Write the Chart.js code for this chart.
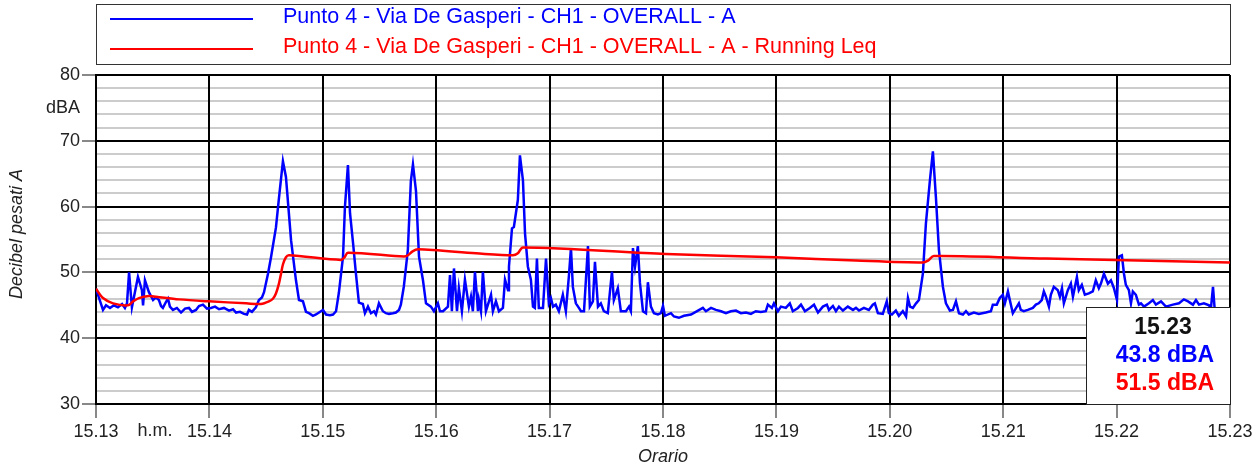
<!DOCTYPE html>
<html>
<head>
<meta charset="utf-8">
<script src="https://cdn.jsdelivr.net/npm/chart.js@4"></script>
<style>
  html, body { margin: 0; padding: 0; background: #fff; }
  #wrap { width: 1259px; height: 470px; }
</style>
</head>
<body>
<div id="wrap"><canvas id="noise-chart" width="1259" height="470"></canvas></div>
<script>
// x values are seconds after 15:13:00
const minuteLabels = ['15.13', '15.14', '15.15', '15.16', '15.17', '15.18', '15.19', '15.20', '15.21', '15.22', '15.23'];

const seriesNames = [
    'Punto 4 - Via De Gasperi - CH1 - OVERALL - A',
    'Punto 4 - Via De Gasperi - CH1 - OVERALL - A - Running Leq'
];

const levelTimes = [
    0, 3.7, 5.3, 7.4, 9.5, 11.6, 13.8, 15.3, 16.4, 17.5, 19.0, 22.2, 24.3, 24.9, 25.9, 28.0, 30.2, 31.7, 33.3, 34.4,
    35.4, 37.0, 38.1, 39.1, 40.7, 42.8, 45.0, 47.1, 49.2, 50.8, 52.9, 54.5, 56.6, 58.7, 60.8, 63.0, 65.1, 67.7, 70.4, 72.5,
    74.1, 76.2, 78.3, 79.9, 80.9, 82.5, 84.6, 86.2, 87.8, 88.9, 91.0, 92.6, 95.2, 96.8, 98.9, 100.5, 103.2, 105.8, 107.4, 109.5,
    111.1, 112.7, 114.8, 116.4, 118.0, 120.1, 121.7, 123.8, 125.4, 127.0, 128.5, 130.7, 131.7, 133.3, 134.4, 136.0, 137.5, 139.1, 141.2, 142.3,
    143.9, 145.5, 147.1, 148.1, 149.7, 151.8, 153.4, 155.0, 157.1, 158.7, 160.3, 161.3, 162.9, 165.0, 166.6, 167.7, 169.3, 170.9, 173.0, 174.6,
    177.2, 178.8, 180.9, 182.0, 183.6, 186.2, 187.3, 188.3, 189.4, 191.0, 192.0, 193.6, 195.2, 197.3, 198.4, 199.4, 200.5, 201.5, 202.1, 202.6,
    203.7, 204.7, 206.3, 209.0, 210.0, 211.6, 213.2, 215.3, 216.4, 218.0, 218.5, 220.1, 221.1, 223.2, 224.3, 225.9, 227.0, 228.5, 230.1, 231.2,
    232.2, 233.3, 234.3, 236.5, 238.1, 239.6, 240.7, 241.8, 243.3, 244.9, 247.0, 248.6, 250.2, 251.3, 252.3, 253.9, 255.5, 256.6, 258.2, 260.3,
    261.3, 262.9, 264.0, 265.6, 267.1, 268.7, 270.8, 273.0, 274.0, 276.1, 277.7, 280.4, 282.0, 283.0, 284.1, 285.2, 286.7, 287.8, 289.4, 291.0,
    292.0, 293.6, 295.2, 297.3, 298.9, 300.0, 301.0, 304.2, 305.8, 308.4, 311.1, 314.8, 318.5, 321.1, 322.7, 325.4, 328.0, 330.7, 333.3, 335.9,
    338.6, 341.2, 343.9, 346.5, 349.1, 351.8, 354.4, 355.5, 357.6, 358.7, 360.8, 362.4, 365.0, 367.1, 368.7, 371.4, 373.0, 375.1, 377.7, 379.9,
    382.0, 384.6, 386.7, 387.8, 389.9, 391.5, 393.1, 395.2, 397.8, 400.5, 402.1, 403.7, 406.3, 408.9, 411.0, 412.1, 413.7, 416.3, 418.4, 419.5,
    421.1, 423.2, 424.8, 426.9, 428.6, 429.6, 430.7, 432.2, 433.9, 435.4, 437.5, 439.1, 441.2, 442.8, 444.4, 446.0, 448.1, 449.7, 451.8, 453.4,
    455.0, 456.6, 458.7, 460.3, 461.8, 464.5, 467.1, 470.8, 473.5, 474.5, 476.6, 478.2, 479.8, 480.9, 482.5, 483.5, 485.1, 486.2, 488.3, 489.3,
    490.9, 493.0, 495.7, 497.3, 498.8, 500.4, 501.5, 502.6, 504.2, 505.2, 506.8, 508.9, 510.0, 511.1, 512.1, 514.2, 515.8, 516.9, 519.0, 520.0,
    521.6, 523.2, 525.3, 527.4, 529.0, 530.6, 531.7, 533.3, 535.4, 537.0, 538.6, 540.2, 541.2, 542.8, 543.9, 544.9, 546.5, 547.6, 548.6, 550.2,
    551.8, 552.9, 554.5, 557.1, 559.2, 560.8, 563.5, 566.1, 569.8, 573.0, 575.6, 577.8, 580.4, 582.0, 583.6, 586.2, 588.9, 589.9, 591.0, 592.0,
    594.7, 597.8, 600
];

const levelValues = [
    47.5, 44.3, 45.0, 44.6, 45.0, 44.7, 45.2, 44.6, 45.3, 50.0, 44.7, 49.3, 47.3, 45.0, 48.8, 47.0, 45.8, 46.2, 45.8, 44.9,
    44.6, 45.5, 46.0, 44.8, 44.3, 44.6, 43.9, 44.5, 44.6, 44.0, 44.3, 44.9, 45.1, 44.5, 44.6, 44.8, 44.4, 44.6, 44.2, 44.4,
    43.9, 44.0, 43.7, 43.6, 44.3, 44.0, 44.7, 45.8, 46.2, 47.0, 49.8, 52.3, 56.8, 61.3, 66.9, 64.5, 54.9, 48.8, 45.8, 45.6,
    44.0, 43.8, 43.4, 43.6, 43.9, 44.3, 43.6, 43.5, 43.6, 44.1, 46.9, 52.4, 59.9, 66.3, 59.0, 54.5, 49.9, 45.4, 45.2, 43.8,
    44.8, 43.8, 44.1, 43.6, 45.3, 44.1, 43.8, 43.7, 43.8, 43.9, 44.3, 45.1, 47.9, 53.4, 63.9, 66.4, 62.4, 52.4, 48.8, 45.3,
    44.8, 44.1, 45.3, 44.1, 44.1, 44.8, 49.6, 44.1, 50.6, 44.1, 47.6, 44.1, 48.9, 44.8, 46.3, 44.1, 50.1, 46.5, 44.1, 45.8,
    44.1, 50.1, 44.1, 46.6, 44.1, 45.6, 44.1, 44.6, 48.9, 47.3, 50.9, 56.7, 56.9, 61.0, 67.8, 64.0, 55.9, 50.9, 48.9, 44.8,
    44.6, 52.1, 44.6, 44.6, 52.1, 45.3, 46.1, 44.8, 45.1, 44.1, 46.6, 44.1, 49.4, 53.7, 47.8, 45.3, 44.6, 44.1, 44.1, 54.0,
    44.8, 45.6, 51.6, 44.8, 45.3, 44.1, 43.8, 50.1, 45.8, 47.6, 44.1, 44.1, 44.8, 44.1, 53.7, 50.9, 54.0, 48.4, 44.1, 43.8,
    48.5, 44.8, 43.8, 43.6, 43.8, 44.9, 43.4, 43.8, 43.3, 43.1, 43.4, 43.6, 44.2, 44.6, 44.1, 44.6, 44.3, 44.1, 43.8, 44.1,
    44.2, 43.8, 43.9, 43.7, 44.1, 44.0, 44.1, 45.1, 44.6, 45.3, 44.1, 44.8, 44.6, 45.3, 44.1, 44.6, 45.1, 44.1, 44.6, 45.1,
    43.9, 44.8, 45.1, 44.3, 44.9, 44.1, 44.8, 44.2, 44.8, 44.3, 44.6, 44.2, 44.6, 44.3, 45.1, 45.3, 43.8, 43.7, 45.6, 43.8,
    43.6, 44.2, 43.4, 44.1, 43.3, 46.1, 44.8, 44.6, 45.3, 45.8, 49.8, 57.4, 63.9, 68.4, 61.4, 53.4, 47.8, 45.3, 44.2, 44.3,
    45.6, 43.8, 43.6, 44.1, 43.6, 43.9, 43.7, 43.9, 44.1, 45.1, 45.1, 46.1, 46.6, 45.3, 47.1, 45.8, 43.8, 44.3, 45.3, 44.3,
    44.1, 44.3, 44.6, 45.1, 45.3, 45.8, 47.1, 46.3, 44.8, 46.6, 47.8, 47.3, 46.3, 47.6, 45.3, 47.3, 48.3, 46.3, 49.3, 47.3,
    48.1, 46.6, 46.8, 47.1, 48.8, 47.6, 48.3, 49.8, 48.3, 48.8, 47.6, 45.8, 52.4, 52.6, 49.8, 48.1, 47.3, 45.3, 47.1, 46.6,
    45.1, 45.3, 44.8, 45.3, 45.8, 45.1, 45.6, 44.8, 45.1, 45.3, 45.9, 45.6, 45.1, 45.8, 45.1, 45.3, 45.0, 44.5, 47.8, 44.0,
    43.5, 43.9, 43.8
];

const leqTimes = [
    0, 3.7, 9.0, 16.9, 19.6, 22.7, 28.0, 31.7, 43.9, 59.8, 79.4, 87.3, 91.5, 93.6, 95.2, 96.8, 97.9, 98.9, 100.5, 102.1,
    129.6, 131.5, 133.3, 162.9, 165.0, 167.5, 170.4, 201.1, 220.6, 223.2, 225.9, 301.5, 359.7, 402.1, 437.5, 440.2, 443.3, 502.6, 600
];

const leqValues = [
    47.5, 46.1, 45.3, 45.0, 45.6, 46.1, 46.4, 46.3, 45.9, 45.6, 45.3, 45.2, 45.6, 46.0, 46.8, 48.3, 49.8, 51.2, 52.3, 52.6,
    51.9, 52.3, 53.0, 52.4, 52.6, 53.2, 53.5, 52.9, 52.6, 52.9, 53.8, 52.8, 52.3, 51.8, 51.5, 51.8, 52.5, 52.1, 51.5
];

const seriesColors = ['#0000ff', '#ff0000'];
const FONT = '"Liberation Sans", Arial, sans-serif';

function toPoints(xs, ys) {
    return xs.map((x, i) => ({ x: x, y: ys[i] }));
}

// legend, axis captions and the read-out box
const annotations = {
    id: 'annotations',
    afterDatasetsDraw(chart) {
        const c = chart.ctx;
        const area = chart.chartArea;
        const yScale = chart.scales.y;
        c.save();

        // legend frame
        c.strokeStyle = '#333';
        c.lineWidth = 1;
        c.strokeRect(96.5, 4.5, area.right - 96, 60);
        seriesNames.forEach((name, i) => {
            const y = 19 + i * 30;
            c.strokeStyle = seriesColors[i];
            c.lineWidth = 2;
            c.beginPath();
            c.moveTo(110, y);
            c.lineTo(253, y);
            c.stroke();
            c.fillStyle = seriesColors[i];
            c.font = '21.5px ' + FONT;
            c.textAlign = 'left';
            c.textBaseline = 'middle';
            c.fillText(name, 283, y - 2);
        });

        // unit label and captions
        c.fillStyle = '#222';
        c.font = '18px ' + FONT;
        c.textAlign = 'right';
        c.textBaseline = 'middle';
        c.fillText('dBA', 80, yScale.getPixelForValue(75));
        c.textAlign = 'center';
        c.fillText('h.m.', 155, 431);
        c.font = 'italic 18px ' + FONT;
        c.fillText('Orario', (area.left + area.right) / 2, 457);
        c.save();
        c.translate(17, 234);
        c.rotate(-Math.PI / 2);
        c.fillText('Decibel pesati A', 0, 0);
        c.restore();

        // last-value box
        const bx = 1086, by = 307;
        c.fillStyle = '#fff';
        c.fillRect(bx, by, area.right - bx, area.bottom - by);
        c.strokeStyle = '#222';
        c.lineWidth = 1;
        c.strokeRect(bx + 0.5, by + 0.5, area.right - bx, area.bottom - by);
        c.font = 'bold 23px ' + FONT;
        c.fillStyle = '#111';
        c.fillText(minuteLabels[minuteLabels.length - 1], 1163, 328);
        c.fillStyle = seriesColors[0];
        c.fillText(levelValues[levelValues.length - 1].toFixed(1) + ' dBA', 1165, 356);
        c.fillStyle = seriesColors[1];
        c.fillText(leqValues[leqValues.length - 1].toFixed(1) + ' dBA', 1165, 384);
        c.restore();
    }
};

const ctx = document.getElementById('noise-chart').getContext('2d');
new Chart(ctx, {
    type: 'line',
    data: {
        datasets: [
            {
                label: seriesNames[0],
                data: toPoints(levelTimes, levelValues),
                borderColor: seriesColors[0],
                borderWidth: 2.5,
                pointRadius: 0,
                tension: 0,
                order: 2
            },
            {
                label: seriesNames[1],
                data: toPoints(leqTimes, leqValues),
                borderColor: seriesColors[1],
                borderWidth: 2.5,
                pointRadius: 0,
                tension: 0.3,
                order: 1
            }
        ]
    },
    options: {
        responsive: false,
        animation: false,
        layout: { padding: { top: 75, right: 29, left: 0, bottom: 0 } },
        plugins: {
            legend: { display: false },
            tooltip: { enabled: false }
        },
        scales: {
            x: {
                type: 'linear',
                min: 0,
                max: 600,
                afterFit: (scale) => { scale.height = 66; },
                border: { color: '#000', width: 2 },
                grid: {
                    z: -1,
                    color: '#000',
                    lineWidth: 2,
                    tickColor: '#888',
                    tickLength: 14
                },
                ticks: {
                    stepSize: 60,
                    padding: 3,
                    maxRotation: 0,
                    autoSkip: false,
                    color: '#222',
                    font: { family: FONT, size: 18 },
                    callback: (v) => minuteLabels[Math.round(v / 60)]
                }
            },
            y: {
                min: 30,
                max: 80,
                afterFit: (scale) => { scale.width = 96; },
                border: { color: '#000', width: 2 },
                grid: {
                    z: -2, // horizontal lines go under the vertical ones
                    color: (c) => (c.tick && c.tick.value % 10 === 0) ? '#000' : '#cccccc',
                    lineWidth: 2,
                    tickColor: (c) => (c.tick && c.tick.value % 10 === 0) ? '#888' : 'rgba(0,0,0,0)',
                    tickLength: 14
                },
                ticks: {
                    stepSize: 2,
                    padding: 2,
                    autoSkip: false,
                    color: '#222',
                    font: { family: FONT, size: 18 },
                    callback: (v) => (v % 10 === 0 ? String(v) : '')
                }
            }
        }
    },
    plugins: [annotations]
});
</script>
</body>
</html>
